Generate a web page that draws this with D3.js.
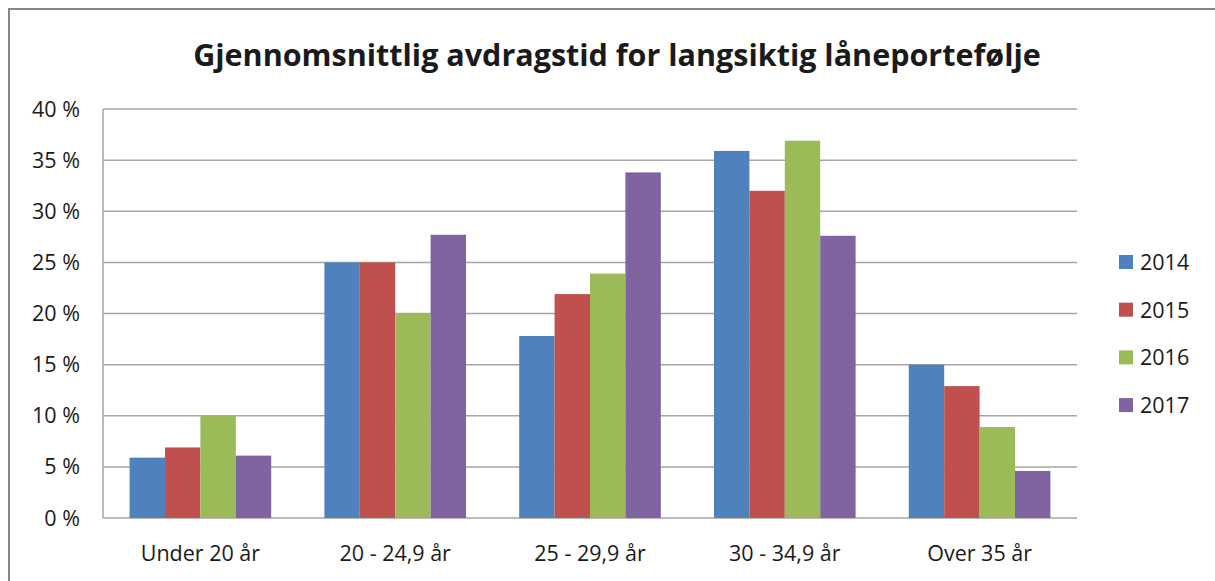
<!DOCTYPE html>
<html>
<head>
<meta charset="utf-8">
<script src="https://cdn.jsdelivr.net/npm/d3@7"></script>
<style>
  body { margin: 0; background: #fff; }
  svg text { font-family: "Open Sans", "Liberation Sans", sans-serif; fill: #1a1a1a; }
</style>
</head>
<body>
<svg id="chart"></svg>
<script>
// Data
const categories = ["Under 20 år", "20 - 24,9 år", "25 - 29,9 år", "30 - 34,9 år", "Over 35 år"];
const years = ["2014", "2015", "2016", "2017"];
const v2014 = [5.9, 25, 17.8, 35.9, 15];
const v2015 = [6.9, 25, 21.9, 32, 12.9];
const v2016 = [10, 20, 23.9, 36.9, 8.9];
const v2017 = [6.1, 27.7, 33.8, 27.6, 4.6];
const yTicks = [0, 5, 10, 15, 20, 25, 30, 35, 40];
const colors = ["#4F81BD", "#C0504D", "#9BBB59", "#8064A2"];

const series = [v2014, v2015, v2016, v2017];

const W = 1215, H = 581;
const plot = { left: 103, right: 1077, top: 109, bottom: 518 };

const svg = d3.select("#chart").attr("width", W).attr("height", H);

// outer frame
svg.append("rect").attr("x", 9).attr("y", 9).attr("width", W + 20).attr("height", H + 20)
  .attr("fill", "#fff").attr("stroke", "#868686").attr("stroke-width", 2);

svg.append("text")
  .attr("x", 617).attr("y", 66)
  .attr("text-anchor", "middle")
  .attr("font-size", 30.5).attr("font-weight", "bold")
  .text("Gjennomsnittlig avdragstid for langsiktig låneportefølje");

const x0 = d3.scaleBand().domain(categories)
  .range([plot.left, plot.right]).paddingInner(0.273).paddingOuter(0.1365);
const x1 = d3.scaleBand().domain(years).range([0, x0.bandwidth()]);
const y = d3.scaleLinear().domain([0, 40]).range([plot.bottom, plot.top]);

// gridlines
svg.append("g").selectAll("line").data(yTicks).join("line")
  .attr("x1", plot.left).attr("x2", plot.right)
  .attr("y1", d => y(d)).attr("y2", d => y(d))
  .attr("stroke", "#a6a6a6").attr("stroke-width", 1.5);

// plot left border
svg.append("line").attr("x1", plot.left).attr("x2", plot.left)
  .attr("y1", plot.top).attr("y2", plot.bottom)
  .attr("stroke", "#a6a6a6").attr("stroke-width", 1.5);

// bars
const groups = svg.append("g").selectAll("g").data(categories).join("g")
  .attr("transform", d => `translate(${x0(d)},0)`);
groups.selectAll("rect")
  .data((c, i) => years.map((yr, k) => ({ yr, k, v: series[k][i] })))
  .join("rect")
  .attr("x", d => x1(d.yr))
  .attr("width", x1.bandwidth())
  .attr("y", d => y(d.v))
  .attr("height", d => y(0) - y(d.v))
  .attr("fill", d => colors[d.k]);

// y axis labels
svg.append("g").selectAll("text").data(yTicks).join("text")
  .attr("x", 80).attr("y", d => y(d) + 7.5)
  .attr("text-anchor", "end").attr("font-size", 21.5)
  .text(d => d + " %");

// category labels
svg.append("g").selectAll("text").data(categories).join("text")
  .attr("x", d => x0(d) + x0.bandwidth() / 2).attr("y", 561)
  .attr("text-anchor", "middle").attr("font-size", 21.5)
  .text(d => d);

// legend
const lg = svg.append("g").selectAll("g").data(years).join("g")
  .attr("transform", (d, i) => `translate(1119,${262 + i * 47.7})`);
lg.append("rect").attr("x", 0).attr("y", -7).attr("width", 14).attr("height", 14)
  .attr("fill", (d, i) => colors[i]);
lg.append("text").attr("x", 21).attr("y", 8).attr("font-size", 21.5).text(d => d);
</script>
</body>
</html>
